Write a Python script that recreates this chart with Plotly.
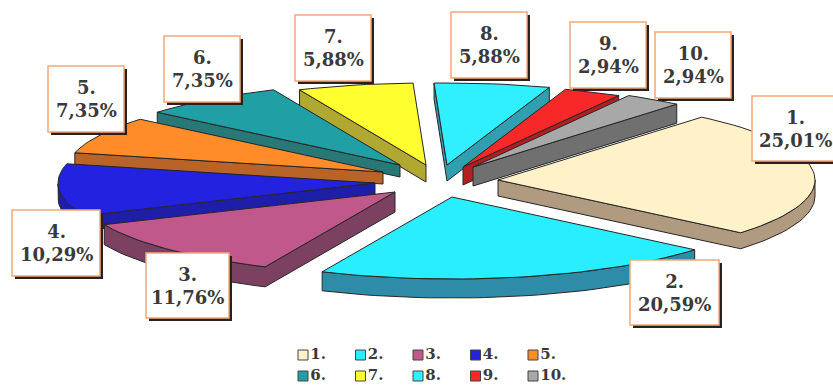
import math
import plotly.graph_objects as go

categories = ["1.", "2.", "3.", "4.", "5.", "6.", "7.", "8.", "9.", "10."]
values = [25.01, 20.59, 11.76, 10.29, 7.35, 7.35, 5.88, 5.88, 2.94, 2.94]
top_colors = ["#FFF2C8", "#28EEFF", "#C0588C", "#2222E0", "#FF8C28",
              "#20A0A4", "#FFFF30", "#30F0FF", "#F82828", "#A8A8A8"]
side_colors = ["#B09A80", "#2E8CA8", "#7C4060", "#1E1EA8", "#B86428",
               "#287878", "#B0A830", "#30A0B0", "#B02020", "#707070"]

# projection of the pie disc
CX, CY = 430, 172
RX, RY = 317, 82
START_DEG = 50
explode_x = [68, 22, -35, -55, -47, -30, -4, 17, 33, 43]
explode_y = [8, 25, 20, 11, 0, -7, -7, -7, -5, -5]
depth = [16, 19, 20, 15, 12, 12, 17, 16, 18, 19]
# label boxes: left, top, right, bottom
boxes = [(752, 96, 840, 161), (630, 260, 719, 325), (146, 253, 229, 318),
         (12, 210, 100, 276), (48, 66, 124, 132), (164, 36, 240, 102),
         (295, 15, 371, 81), (451, 12, 527, 78), (570, 22, 646, 88),
         (655, 32, 731, 98)]

INK = "#262626"
total = sum(values)
fig = go.Figure()


def poly_trace(xs, ys, fill):
    return go.Scatter(x=xs, y=ys, mode="lines", fill="toself", fillcolor=fill,
                      line=dict(color=INK, width=1), hoverinfo="skip",
                      showlegend=False)


def wall_runs(pts):
    """Runs of consecutive edges that face the viewer (clockwise on screen: moving left)."""
    m = len(pts)
    front = [pts[(k + 1) % m][0] < pts[k][0] for k in range(m)]
    start = next((k for k in range(m) if not front[k]), 0)
    runs, cur = [], []
    for o in range(m):
        k = (start + o) % m
        if front[k]:
            if not cur:
                cur = [pts[k]]
            cur.append(pts[(k + 1) % m])
        elif cur:
            runs.append(cur)
            cur = []
    if cur:
        runs.append(cur)
    return runs


slices = []
angle = START_DEG
for i, v in enumerate(values):
    sweep = v / total * 360
    a0, a1 = angle, angle - sweep
    angle = a1
    ax, ay = CX + explode_x[i], CY + explode_y[i]
    n = max(3, int(sweep / 2))
    pts = [(ax, ay)]
    for k in range(n + 1):
        t = math.radians(a0 + (a1 - a0) * k / n)
        pts.append((ax + RX * math.cos(t), ay - RY * math.sin(t)))
    slices.append((math.sin(math.radians((a0 + a1) / 2)), i, pts))

# back-to-front drawing order
for _, i, pts in sorted(slices, key=lambda s: -s[0]):
    d = depth[i]
    wx, wy = [], []
    for run in wall_runs(pts):
        ring = run + [(p[0], p[1] + d) for p in reversed(run)] + [run[0]]
        wx += [p[0] for p in ring] + [None]
        wy += [p[1] for p in ring] + [None]
    fig.add_trace(poly_trace(wx, wy, side_colors[i]))
    fig.add_trace(poly_trace([p[0] for p in pts] + [pts[0][0]],
                             [p[1] for p in pts] + [pts[0][1]], top_colors[i]))

# callout labels
shapes = []
annotations = []
for i, (l, t, r, b) in enumerate(boxes):
    shapes.append(dict(type="rect", x0=l + 3, y0=t + 3, x1=r + 3, y1=b + 3,
                       fillcolor="#2A2020", line=dict(width=0), layer="above"))
    shapes.append(dict(type="rect", x0=l, y0=t, x1=r, y1=b, fillcolor="white",
                       line=dict(color="#F4A878", width=1.5), layer="above"))
    pct = f"{values[i]:.2f}".replace(".", ",") + "%"
    annotations.append(dict(x=(l + r) / 2 if r < 833 else 795, y=(t + b) / 2, xref="x", yref="y",
                            text=f"<b>{categories[i]}<br>{pct}</b>", showarrow=False,
                            align="center", font=dict(family="DejaVu Serif", size=18, color="#3A3A3A")))

# legend
for i, c in enumerate(categories):
    lx = 303 + 57.5 * (i % 5)
    ly = 355 if i < 5 else 376
    fig.add_trace(go.Scatter(x=[lx], y=[ly], mode="markers+text", text=[f"<b>{c}</b>"],
                             textposition="middle right",
                             textfont=dict(family="DejaVu Serif", size=15, color="#3A3A3A"),
                             marker=dict(symbol="square", size=10, color=top_colors[i],
                                         line=dict(color="#444444", width=1)),
                             hoverinfo="skip", showlegend=False))

fig.update_layout(width=833, height=385, margin=dict(l=0, r=0, t=0, b=0),
                  paper_bgcolor="white", plot_bgcolor="white", showlegend=False,
                  xaxis=dict(range=[0, 833], visible=False, fixedrange=True),
                  yaxis=dict(range=[385, 0], visible=False, fixedrange=True),
                  shapes=shapes, annotations=annotations)
fig.write_html("out.html", config={"displayModeBar": False},
               post_script="document.body.style.margin='0';document.documentElement.style.overflow='hidden';")
